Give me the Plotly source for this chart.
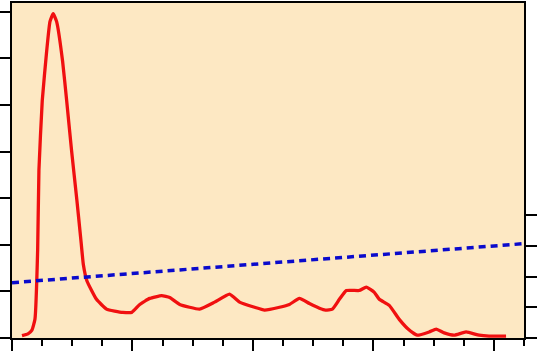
import plotly.graph_objects as go

# Red series (left axis)
red_x = [1.66, 2.65, 3.31, 3.81, 4.26, 4.47, 5.02, 5.75, 6.30, 6.84, 7.41, 8.40, 9.08,
         9.89, 10.77, 11.43, 11.85, 12.43, 14.03, 15.69, 18.39, 19.88, 21.21, 22.87, 24.85, 26.18,
         27.84, 31.15, 33.64, 36.12, 37.78, 40.27, 41.92, 44.41, 46.06, 47.72, 49.38, 51.04,
         52.02, 53.19, 54.35, 55.51, 57.66, 58.82, 60.15, 60.98, 62.63, 64.29, 65.95, 67.27,
         69.26, 70.42, 71.75, 73.41, 75.39, 77.55, 79.20, 82.02]
red_y = [0.05, 0.09, 0.17, 0.40, 1.89, 3.60, 5.09, 6.15, 6.79, 6.96, 6.79, 5.94, 5.09,
         4.02, 2.96, 2.11, 1.57, 1.23, 0.83, 0.62, 0.55, 0.55, 0.72, 0.85, 0.91, 0.87,
         0.72, 0.62, 0.77, 0.94, 0.77, 0.66, 0.60, 0.66, 0.72, 0.85, 0.74, 0.64,
         0.60, 0.62, 0.83, 1.02, 1.02, 1.09, 0.98, 0.83, 0.70, 0.40, 0.17, 0.06,
         0.13, 0.19, 0.11, 0.06, 0.13, 0.06, 0.04, 0.04]

# Blue dotted trend (right axis)
blue_x = [0, 85]
blue_y = [1.80, 3.07]

left_ticks = [0, 1, 2, 3, 4, 5, 6, 7]
right_ticks = [0, 1, 2, 3, 4]

fig = go.Figure()
fig.add_trace(go.Scatter(x=red_x, y=red_y, mode="lines",
                         line=dict(color="#F01010", width=3.3, shape="spline", smoothing=0.4),
                         showlegend=False))
fig.add_trace(go.Scatter(x=blue_x, y=blue_y, mode="lines", yaxis="y2",
                         line=dict(color="#0A0ACC", width=3.5, dash="7px,5px"),
                         showlegend=False))

fig.update_layout(
    width=537, height=351,
    margin=dict(l=12, r=12, t=1, b=12, pad=0),
    paper_bgcolor="white",
    plot_bgcolor="#FDE8C3",
    xaxis=dict(range=[0, 85], showgrid=False, zeroline=False, showline=True,
               linecolor="black", linewidth=2, mirror=True,
               ticks="outside", tick0=0, dtick=20, ticklen=12, tickwidth=1.5,
               tickcolor="black", showticklabels=False,
               minor=dict(ticks="outside", dtick=5, tick0=0, ticklen=6,
                          tickwidth=1.5, tickcolor="black", showgrid=False)),
    yaxis=dict(range=[0, 7.19], showgrid=False, zeroline=False, showline=True,
               linecolor="black", linewidth=2, mirror=True,
               ticks="outside", tickvals=left_ticks, ticklen=10, tickwidth=1.5,
               tickcolor="black", showticklabels=False),
    yaxis2=dict(range=[0, 10.9], overlaying="y", side="right", showgrid=False,
                zeroline=False, showline=True, linecolor="black", linewidth=2,
                ticks="outside", tickvals=right_ticks, ticklen=12, tickwidth=1.5,
                tickcolor="black", showticklabels=False),
)

fig.write_html("out.html")
